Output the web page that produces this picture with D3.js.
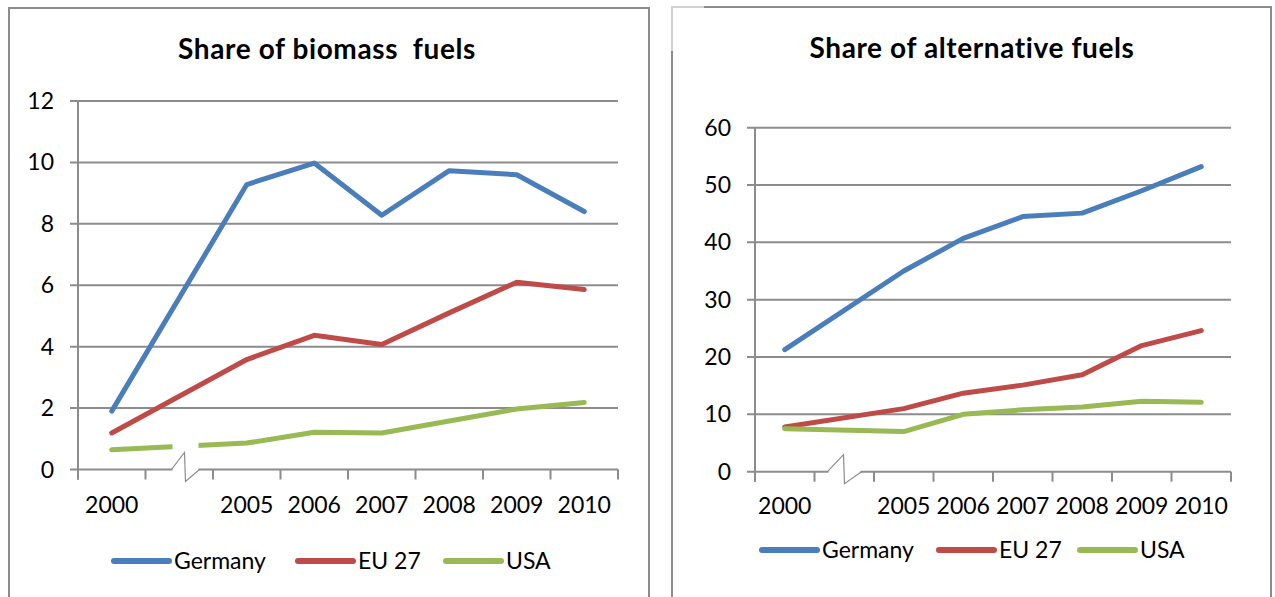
<!DOCTYPE html>
<html>
<head>
<meta charset="utf-8">
<script src="https://cdn.jsdelivr.net/npm/d3@7"></script>
<style>
  body { margin: 0; background: #fff; }
  text { font-family: Lato, "Noto Sans", sans-serif; fill: #000; }
</style>
</head>
<body>
<script>
// Categories on the x axis (the blank one holds the axis break)
var categories = ["2000", "", "2005", "2006", "2007", "2008", "2009", "2010"];
var years = ["2000", "2005", "2006", "2007", "2008", "2009", "2010"];
var seriesNames = ["Germany", "EU 27", "USA"];
var seriesColors = ["#4a7ebb", "#be4b48", "#98b954"];

// Share of biomass fuels
var biomassGermany = [1.9, 9.28, 9.98, 8.28, 9.73, 9.6, 8.4];
var biomassEU27 = [1.19, 3.58, 4.37, 4.07, 5.1, 6.1, 5.86];
var biomassUSA = [0.64, 0.86, 1.21, 1.19, 1.58, 1.97, 2.18];
var biomassTicks = [0, 2, 4, 6, 8, 10, 12];

// Share of alternative fuels
var altGermany = [21.3, 35.0, 40.7, 44.5, 45.1, 49.0, 53.2];
var altEU27 = [7.8, 11.0, 13.7, 15.1, 16.9, 22.0, 24.6];
var altUSA = [7.5, 7.0, 10.0, 10.8, 11.3, 12.3, 12.1];
var altTicks = [0, 10, 20, 30, 40, 50, 60];

var w = 1275, h = 597;

var svg = d3.select("body").append("svg")
    .attr("width", w)
    .attr("height", h);

function drawChart(cfg) {
    var g = svg.append("g");

    // outer frame
    g.append("rect")
        .attr("x", cfg.box[0]).attr("y", cfg.box[1])
        .attr("width", cfg.box[2]).attr("height", cfg.box[3])
        .attr("fill", "none")
        .attr("stroke", "#8c8c8c")
        .attr("stroke-width", 2);

    //Title
    g.append("text")
        .attr("x", cfg.titleX).attr("y", cfg.titleY)
        .attr("text-anchor", "middle")
        .attr("font-size", "28px")
        .attr("font-weight", "bold")
        .attr("letter-spacing", "0.6px")
        .style("white-space", "pre")
        .text(cfg.title);

    var x = d3.scaleBand()
        .domain(d3.range(categories.length))
        .range(cfg.xRange)
        .padding(0);

    var y = d3.scaleLinear()
        .domain([0, d3.max(cfg.ticks)])
        .range(cfg.yRange);

    var left = cfg.xRange[0], right = cfg.xRange[1], bottom = cfg.yRange[0];

    //Gridlines + y labels
    g.selectAll(".grid")
        .data(cfg.ticks)
        .enter()
        .append("line")
        .attr("x1", left - 8).attr("x2", right)
        .attr("y1", (d) => y(d)).attr("y2", (d) => y(d))
        .attr("stroke", "#8c8c8c")
        .attr("stroke-width", 2);

    g.selectAll(".ylab")
        .data(cfg.ticks)
        .enter()
        .append("text")
        .attr("x", left - 24)
        .attr("y", (d) => y(d) + 8)
        .attr("text-anchor", "end")
        .attr("font-size", "23px")
        .text((d) => d);

    // y axis line
    g.append("line")
        .attr("x1", left).attr("x2", left)
        .attr("y1", y(d3.max(cfg.ticks))).attr("y2", bottom + 10)
        .attr("stroke", "#8c8c8c")
        .attr("stroke-width", 2);

    // x tick marks at band edges
    var edges = d3.range(categories.length + 1).map((i) => left + i * x.bandwidth());
    g.selectAll(".xtick")
        .data(edges)
        .enter()
        .append("line")
        .attr("x1", (d) => d).attr("x2", (d) => d)
        .attr("y1", bottom).attr("y2", bottom + 10)
        .attr("stroke", "#8c8c8c")
        .attr("stroke-width", 2);

    // x labels
    g.selectAll(".xlab")
        .data(categories)
        .enter()
        .append("text")
        .attr("x", (d, i) => x(i) + x.bandwidth() / 2)
        .attr("y", cfg.xLabelY)
        .attr("text-anchor", "middle")
        .attr("font-size", "23px")
        .text((d) => d);

    //Series lines
    var line = d3.line()
        .x((d, i) => x(categories.indexOf(years[i])) + x.bandwidth() / 2)
        .y((d) => y(d));

    cfg.series.forEach((s, k) => {
        g.append("path")
            .attr("d", line(s))
            .attr("fill", "none")
            .attr("stroke", seriesColors[k])
            .attr("stroke-width", 5)
            .attr("stroke-linejoin", "round")
            .attr("stroke-linecap", "round");
    });

    //Axis break
    var b0 = x(1) + cfg.breakOffset[0], b1 = x(1) + cfg.breakOffset[1];
    var bm = (b0 + b1) / 2;
    g.append("rect")
        .attr("x", b0).attr("y", bottom - cfg.breakTop)
        .attr("width", b1 - b0).attr("height", cfg.breakTop + 14)
        .attr("fill", "#fff");
    g.append("path")
        .attr("d", "M" + (b0 - 1) + "," + bottom +
                   "L" + (bm - 1) + "," + (bottom - 17) +
                   "L" + (bm) + "," + (bottom + 12) +
                   "L" + (b1 + 1) + "," + bottom)
        .attr("fill", "none")
        .attr("stroke", "#8c8c8c")
        .attr("stroke-width", 1.2);

    //Legend
    cfg.legendX.forEach((lx, k) => {
        g.append("line")
            .attr("x1", lx).attr("x2", lx + 55)
            .attr("y1", cfg.legendY).attr("y2", cfg.legendY)
            .attr("stroke", seriesColors[k])
            .attr("stroke-width", 6)
            .attr("stroke-linecap", "round");
        g.append("text")
            .attr("x", lx + 60)
            .attr("y", cfg.legendY + 8)
            .attr("font-size", "23px")
            .attr("fill", "#222")
            .text(seriesNames[k]);
    });

    // faded frame corner (right chart only)
    if (cfg.fadeCorner) {
        g.append("path")
            .attr("d", "M" + cfg.box[0] + "," + (cfg.box[1] + 44) +
                       "V" + cfg.box[1] + "H" + (cfg.box[0] + 32))
            .attr("fill", "none")
            .attr("stroke", "#d0d0d0")
            .attr("stroke-width", 2);
    }
}

drawChart({
    box: [9, 8, 640, 620],
    title: "Share of biomass  fuels",
    titleX: 327, titleY: 59,
    xRange: [78, 618],
    yRange: [469.5, 101],
    ticks: biomassTicks,
    xLabelY: 513,
    series: [biomassGermany, biomassEU27, biomassUSA],
    breakOffset: [27, 53],
    breakTop: 30,
    legendX: [114, 298, 446],
    legendY: 561
});

drawChart({
    box: [672, 7, 599, 620],
    title: "Share of alternative fuels",
    titleX: 972, titleY: 58,
    xRange: [755, 1231],
    yRange: [471.7, 127.7],
    ticks: altTicks,
    xLabelY: 514,
    series: [altGermany, altEU27, altUSA],
    breakOffset: [14, 46],
    breakTop: 18,
    legendX: [762, 939, 1080],
    legendY: 550,
    fadeCorner: true
});
</script>
</body>
</html>
